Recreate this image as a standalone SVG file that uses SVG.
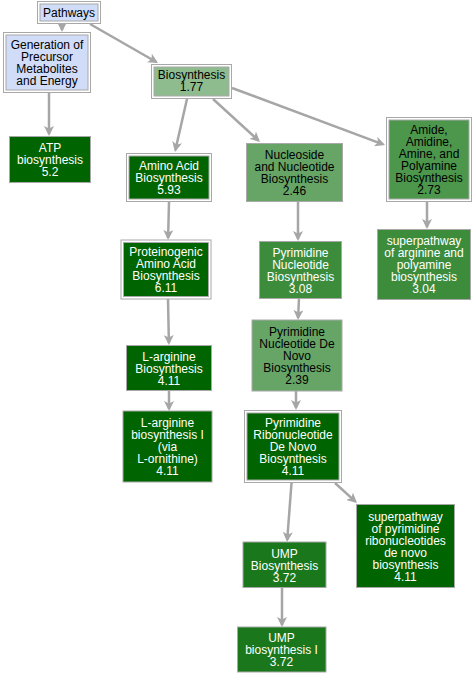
<svg xmlns="http://www.w3.org/2000/svg" width="472" height="673" viewBox="0 0 472 673">
<style>
text{font-family:"Liberation Sans",Arial,Helvetica,sans-serif;font-size:12px;text-anchor:middle}
.b{fill:#000}.w{fill:#fff}
.o{fill:#fff;stroke:#a8a8a8;stroke-width:1}
.s{stroke:#a8a8a8;stroke-width:1}
.e line{stroke:#a6a6a6;stroke-width:2.5;marker-end:url(#ah)}
.c0{fill:#d0dcf8}.c1{fill:#8fbc8f}.c2{fill:#67a567}.c3{fill:#4c974c}.c4{fill:#3c8c3c}.c5{fill:#1b771b}.c6{fill:#006400}
</style>
<defs>
<marker id="ah" viewBox="0 0 10 10" markerWidth="10" markerHeight="10" markerUnits="userSpaceOnUse" refX="8" refY="5" orient="auto">
<path d="M0,0 L10,5 L0,10 L2.5,5 z" fill="#a6a6a6"/>
</marker>
</defs>
<g id="edges" class="e">
<line x1="62" y1="24" x2="62" y2="30"/>
<line x1="90" y1="24" x2="156.3" y2="62"/>
<line x1="49" y1="93" x2="49" y2="134"/>
<line x1="187" y1="99" x2="175.4" y2="150"/>
<line x1="213" y1="99" x2="258.5" y2="140.6"/>
<line x1="232" y1="88" x2="383.1" y2="144.3"/>
<line x1="169" y1="202" x2="168.1" y2="238"/>
<line x1="298" y1="202" x2="298" y2="239"/>
<line x1="427" y1="202" x2="427" y2="227"/>
<line x1="168" y1="299" x2="168.9" y2="343"/>
<line x1="299" y1="298" x2="298.1" y2="318"/>
<line x1="169" y1="391" x2="169" y2="409"/>
<line x1="296" y1="391" x2="296" y2="408"/>
<line x1="291.5" y1="483" x2="287.2" y2="540"/>
<line x1="335" y1="483" x2="355.5" y2="501.6"/>
<line x1="282" y1="587" x2="282" y2="625"/>
</g>
<g id="n_pathways"><rect class="o" x="37.5" y="1.5" width="63" height="22"/><rect class="s c0" x="40" y="4" width="58" height="17"/>
<text class="b" x="69" y="17">Pathways</text></g>
<g id="n_generation"><rect class="o" x="3.5" y="32.5" width="87" height="60"/><rect class="s c0" x="6" y="35" width="82" height="55"/>
<text class="b"><tspan x="47" y="49">Generation of</tspan><tspan x="47" y="61">Precursor</tspan><tspan x="47" y="73">Metabolites</tspan><tspan x="47" y="85">and Energy</tspan></text></g>
<g id="n_biosynthesis"><rect class="o" x="151.5" y="64.5" width="80" height="34"/><rect class="s c1" x="154" y="67" width="75" height="29"/>
<text class="b"><tspan x="191.5" y="79">Biosynthesis</tspan><tspan x="191.5" y="91">1.77</tspan></text></g>
<g id="n_atp"><rect class="s c6" x="9.5" y="136.5" width="81" height="46"/>
<text class="w"><tspan x="50" y="152">ATP</tspan><tspan x="50" y="164">biosynthesis</tspan><tspan x="50" y="176">5.2</tspan></text></g>
<g id="n_aminoacid"><rect class="o" x="126.5" y="153.5" width="85" height="48"/><rect class="s c6" x="129" y="156" width="80" height="43"/>
<text class="w"><tspan x="169" y="170">Amino Acid</tspan><tspan x="169" y="182">Biosynthesis</tspan><tspan x="169" y="194">5.93</tspan></text></g>
<g id="n_nucleoside"><rect class="s c2" x="246.5" y="143.5" width="96" height="58"/>
<text class="b"><tspan x="294.5" y="159">Nucleoside</tspan><tspan x="294.5" y="171">and Nucleotide</tspan><tspan x="294.5" y="183">Biosynthesis</tspan><tspan x="294.5" y="195">2.46</tspan></text></g>
<g id="n_amide"><rect class="o" x="386.5" y="117.5" width="85" height="84"/><rect class="s c3" x="389" y="120" width="80" height="79"/>
<text class="b"><tspan x="429" y="134">Amide,</tspan><tspan x="429" y="146">Amidine,</tspan><tspan x="429" y="158">Amine, and</tspan><tspan x="429" y="170">Polyamine</tspan><tspan x="429" y="182">Biosynthesis</tspan><tspan x="429" y="194">2.73</tspan></text></g>
<g id="n_proteinogenic"><rect class="o" x="121" y="240" width="90" height="59"/><rect class="s c6" x="123.5" y="242.5" width="85" height="54"/>
<text class="w"><tspan x="166" y="256">Proteinogenic</tspan><tspan x="166" y="268">Amino Acid</tspan><tspan x="166" y="280">Biosynthesis</tspan><tspan x="166" y="292">6.11</tspan></text></g>
<g id="n_pyrnuc"><rect class="s c4" x="259.5" y="241.5" width="82" height="57"/>
<text class="w"><tspan x="300.5" y="256.5">Pyrimidine</tspan><tspan x="300.5" y="268.5">Nucleotide</tspan><tspan x="300.5" y="280.5">Biosynthesis</tspan><tspan x="300.5" y="292.5">3.08</tspan></text></g>
<g id="n_superarg"><rect class="s c4" x="377.5" y="229.5" width="93" height="70"/>
<text class="w"><tspan x="424" y="245">superpathway</tspan><tspan x="424" y="257">of arginine and</tspan><tspan x="424" y="269">polyamine</tspan><tspan x="424" y="281">biosynthesis</tspan><tspan x="424" y="293">3.04</tspan></text></g>
<g id="n_larg"><rect class="s c6" x="126.5" y="345.5" width="85" height="45"/>
<text class="w"><tspan x="169" y="360.5">L-arginine</tspan><tspan x="169" y="372.5">Biosynthesis</tspan><tspan x="169" y="384.5">4.11</tspan></text></g>
<g id="n_largI"><rect class="s c6" x="123" y="411" width="89" height="71"/>
<text class="w"><tspan x="167.5" y="427">L-arginine</tspan><tspan x="167.5" y="439">biosynthesis I</tspan><tspan x="167.5" y="451">(via</tspan><tspan x="167.5" y="463">L-ornithine)</tspan><tspan x="167.5" y="475">4.11</tspan></text></g>
<g id="n_denovo"><rect class="s c2" x="252" y="320" width="90" height="71"/>
<text class="b"><tspan x="297" y="336">Pyrimidine</tspan><tspan x="297" y="348">Nucleotide De</tspan><tspan x="297" y="360">Novo</tspan><tspan x="297" y="372">Biosynthesis</tspan><tspan x="297" y="384">2.39</tspan></text></g>
<g id="n_ribo"><rect class="o" x="244.5" y="410.5" width="97" height="72"/><rect class="s c6" x="247" y="413" width="92" height="67"/>
<text class="w"><tspan x="293" y="427">Pyrimidine</tspan><tspan x="293" y="439">Ribonucleotide</tspan><tspan x="293" y="451">De Novo</tspan><tspan x="293" y="463">Biosynthesis</tspan><tspan x="293" y="475">4.11</tspan></text></g>
<g id="n_superpyr"><rect class="s c6" x="356.5" y="504.5" width="98" height="83"/>
<text class="w"><tspan x="405.5" y="520.5">superpathway</tspan><tspan x="405.5" y="532.5">of pyrimidine</tspan><tspan x="405.5" y="544.5">ribonucleotides</tspan><tspan x="405.5" y="556.5">de novo</tspan><tspan x="405.5" y="568.5">biosynthesis</tspan><tspan x="405.5" y="580.5">4.11</tspan></text></g>
<g id="n_ump"><rect class="s c5" x="243" y="542" width="83" height="45.5"/>
<text class="w"><tspan x="284.5" y="557.5">UMP</tspan><tspan x="284.5" y="569.5">Biosynthesis</tspan><tspan x="284.5" y="581.5">3.72</tspan></text></g>
<g id="n_umpI"><rect class="s c5" x="237.5" y="627" width="88.5" height="45"/>
<text class="w"><tspan x="281.5" y="642">UMP</tspan><tspan x="281.5" y="654">biosynthesis I</tspan><tspan x="281.5" y="666">3.72</tspan></text></g>
</svg>
